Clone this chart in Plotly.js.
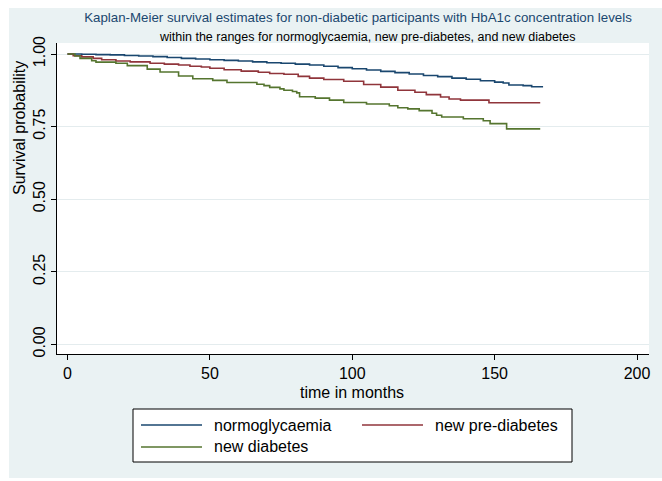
<!DOCTYPE html>
<html>
<head>
<meta charset="utf-8">
<script src="https://cdn.plot.ly/plotly-3.0.1.min.js"></script>
<style>
  html, body { margin: 0; padding: 0; background: #ffffff; }
  #chart { width: 662px; height: 481px; }
</style>
</head>
<body>
<div id="chart"></div>
<script>
// Kaplan-Meier step estimates (time in months, survival probability)
const groupNames = ["normoglycaemia", "new pre-diabetes", "new diabetes"];
const groupColors = ["#1a476f", "#90353b", "#55752f"];

const monthsNormo = [0, 5, 10, 15, 20, 25, 30, 35, 40, 45, 50, 55, 60, 65, 70, 75, 80, 85, 90, 95,
  100, 105, 110, 115, 120, 125, 130, 135, 140, 145, 150, 153, 155, 160, 163, 167];
const survNormo = [1.000, 0.999, 0.998, 0.997, 0.995, 0.993, 0.991, 0.988, 0.985, 0.983, 0.980, 0.978,
  0.976, 0.973, 0.970, 0.968, 0.965, 0.962, 0.958, 0.953, 0.949, 0.945, 0.940, 0.936, 0.931, 0.926,
  0.922, 0.917, 0.913, 0.908, 0.903, 0.900, 0.893, 0.891, 0.887, 0.887];

const monthsPre = [0, 2, 5, 9, 12, 17, 22, 29, 34, 39, 43, 47, 50, 55, 61, 67, 71, 76, 81, 85, 90, 97,
  104, 110, 116, 122, 126, 131, 134, 138, 148, 166];
const survPre = [1.000, 0.994, 0.990, 0.985, 0.980, 0.976, 0.973, 0.968, 0.965, 0.962, 0.958, 0.955,
  0.951, 0.946, 0.941, 0.937, 0.933, 0.930, 0.923, 0.917, 0.912, 0.906, 0.895, 0.886, 0.875, 0.868,
  0.860, 0.852, 0.845, 0.841, 0.832, 0.832];

const monthsDiab = [0, 2.6, 4.4, 8.5, 10, 17, 21, 28, 32.5, 39, 44, 51, 56, 66.5, 69, 71, 74.6, 76, 79,
  80.5, 81.5, 87, 92, 97, 105, 113, 116, 119.5, 123.5, 128, 129.6, 131.4, 139, 146, 148.4, 154.2, 166];
const survDiab = [1.000, 0.993, 0.985, 0.977, 0.972, 0.968, 0.960, 0.948, 0.938, 0.924, 0.915, 0.909,
  0.902, 0.896, 0.891, 0.885, 0.880, 0.875, 0.871, 0.866, 0.853, 0.848, 0.841, 0.833, 0.828, 0.822,
  0.815, 0.811, 0.805, 0.796, 0.789, 0.783, 0.777, 0.770, 0.760, 0.742, 0.742];

const xTicks = [0, 50, 100, 150, 200];
const yTicks = [0, 0.25, 0.5, 0.75, 1];
const yTickText = ["0.00", "0.25", "0.50", "0.75", "1.00"];

const titleText = "Kaplan-Meier survival estimates for non-diabetic participants with HbA1c concentration levels";
const subtitleText = "within the ranges for normoglycaemia, new pre-diabetes, and new diabetes";
const xTitle = "time in months";
const yTitle = "Survival probability";

// page geometry
const W = 662, H = 481;
const M = { l: 57, r: 13, t: 43, b: 127 };
const PW = W - M.l - M.r, PH = H - M.t - M.b;
const px = x => (x - M.l) / PW;          // pixel -> paper x
const py = y => (H - M.b - y) / PH;      // pixel -> paper y

const FONT = "Liberation Sans, Arial, sans-serif";
const BG = "#eaf2f3";

const series = [[monthsNormo, survNormo], [monthsPre, survPre], [monthsDiab, survDiab]];
const traces = series.map((s, i) => ({
  type: "scatter",
  mode: "lines",
  x: s[0],
  y: s[1],
  name: groupNames[i],
  line: { color: groupColors[i], width: 1.6, shape: "hv" },
  hoverinfo: "skip",
  showlegend: false
}));

const shapes = [
  // white frame around the graph region
  { type: "rect", xref: "paper", yref: "paper", layer: "below", x0: px(0), x1: px(9), y0: py(0), y1: py(H), fillcolor: "#ffffff", line: { width: 0 } },
  { type: "rect", xref: "paper", yref: "paper", layer: "below", x0: px(0), x1: px(W), y0: py(0), y1: py(8), fillcolor: "#ffffff", line: { width: 0 } },
  { type: "rect", xref: "paper", yref: "paper", layer: "below", x0: px(0), x1: px(W), y0: py(478), y1: py(H), fillcolor: "#ffffff", line: { width: 0 } },
  // legend box
  { type: "rect", xref: "paper", yref: "paper", x0: px(133), x1: px(572), y0: py(409), y1: py(462), fillcolor: "#ffffff", line: { color: "#000000", width: 1 } }
];

const annotations = [
  { text: subtitleText, xref: "paper", yref: "paper", x: px(367), y: py(37), xanchor: "center", yanchor: "middle", showarrow: false, font: { family: FONT, size: 12.5, color: "#000000" } },
  { text: yTitle, xref: "paper", yref: "paper", x: px(19), y: py(128), xanchor: "center", yanchor: "middle", textangle: -90, showarrow: false, font: { family: FONT, size: 16, color: "#000000" } },
  { text: xTitle, xref: "paper", yref: "paper", x: px(352), y: py(392), xanchor: "center", yanchor: "middle", showarrow: false, font: { family: FONT, size: 16, color: "#000000" } }
];

// legend entries: two columns, wrapping to a second row
const legendSlots = [[141, 425], [362, 425], [141, 447]];
groupNames.forEach((name, i) => {
  const [lx, ly] = legendSlots[i];
  shapes.push({ type: "line", xref: "paper", yref: "paper", x0: px(lx), x1: px(lx + 61), y0: py(ly), y1: py(ly), line: { color: groupColors[i], width: 1.6 } });
  annotations.push({ text: name, xref: "paper", yref: "paper", x: px(lx + 71), y: py(ly), xanchor: "left", yanchor: "middle", showarrow: false, font: { family: FONT, size: 16, color: "#000000" } });
});

const layout = {
  width: W,
  height: H,
  margin: M,
  paper_bgcolor: BG,
  plot_bgcolor: "#ffffff",
  showlegend: false,
  title: {
    text: titleText,
    font: { family: FONT, size: 13.3, color: "#1a476f" },
    x: px(358), xref: "paper", xanchor: "center",
    y: 1 - 17 / H, yref: "container", yanchor: "middle"
  },
  xaxis: {
    range: [-3.69, 204.2],
    tickvals: xTicks,
    ticks: "outside", ticklen: 5, tickcolor: "#000000", tickwidth: 1,
    showgrid: false, zeroline: false,
    showline: true, linecolor: "#000000", linewidth: 1,
    tickfont: { family: FONT, size: 16, color: "#000000" }
  },
  yaxis: {
    range: [-0.0334, 1.0379],
    tickvals: yTicks,
    ticktext: yTickText,
    tickangle: -90,
    ticks: "outside", ticklen: 5, tickcolor: "#000000", tickwidth: 1,
    showgrid: true, gridcolor: "#e4ecee", gridwidth: 1,
    zeroline: false,
    showline: true, linecolor: "#000000", linewidth: 1,
    tickfont: { family: FONT, size: 16, color: "#000000" }
  },
  shapes: shapes,
  annotations: annotations
};

Plotly.newPlot("chart", traces, layout, { staticPlot: true, displayModeBar: false });
</script>
</body>
</html>
